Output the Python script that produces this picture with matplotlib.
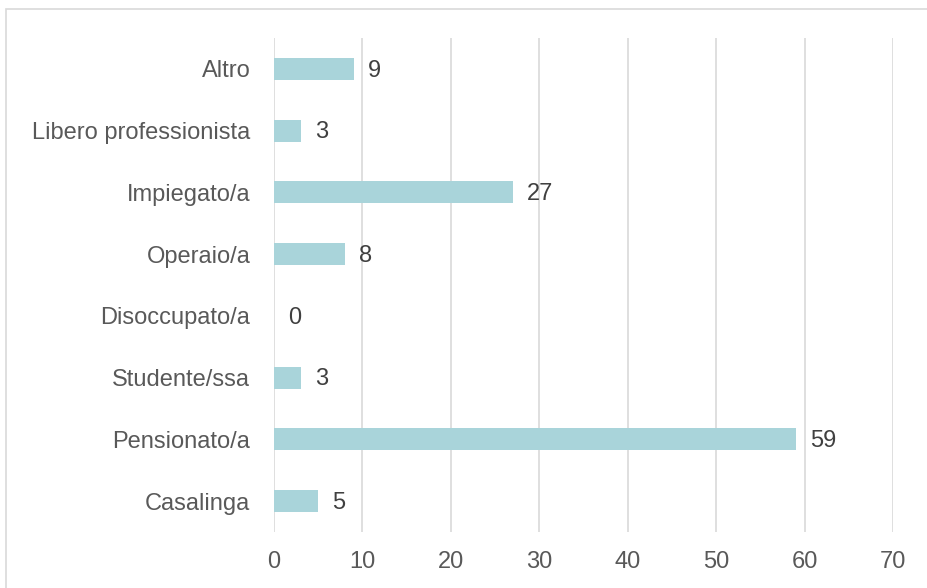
import matplotlib.pyplot as plt
from matplotlib.patches import Rectangle

categories = ["Casalinga", "Pensionato/a", "Studente/ssa", "Disoccupato/a",
              "Operaio/a", "Impiegato/a", "Libero professionista", "Altro"]
values = [5, 59, 3, 0, 8, 27, 3, 9]
xticks = [0, 10, 20, 30, 40, 50, 60, 70]

plt.rcParams['font.family'] = ['Liberation Sans', 'DejaVu Sans']

fig = plt.figure(figsize=(9.27, 5.88), dpi=100)
ax = fig.add_axes([274 / 927, 1 - 532 / 588, (893 - 274) / 927, (532 - 38) / 588])

# chart border
fig.patches.append(Rectangle((6 / 927, -0.1), 1.2, 1 - 9 / 588 + 0.1,
                             transform=fig.transFigure, fill=False,
                             edgecolor='#D9D9D9', linewidth=1.2))

y = range(len(categories))
ax.barh(y, values, height=0.36, color='#A9D4DA', zorder=3)
for yi, v in zip(y, values):
    ax.text(v + 1.6, yi - 0.03, str(v), va='center', ha='left', fontsize=17, color='#404040')

ax.set_xlim(0, 70)
ax.set_ylim(-0.5, 7.5)
ax.set_xticks(xticks)
ax.set_yticks(list(y))
ax.set_yticklabels(categories)
ax.tick_params(axis='both', length=0, labelsize=17, labelcolor='#595959')
ax.tick_params(axis='y', pad=17)
ax.tick_params(axis='x', pad=14)
ax.grid(axis='x', color='#D9D9D9', linewidth=1.2, zorder=0)
for s in ax.spines.values():
    s.set_visible(False)

fig.savefig("out.png", dpi=100)
